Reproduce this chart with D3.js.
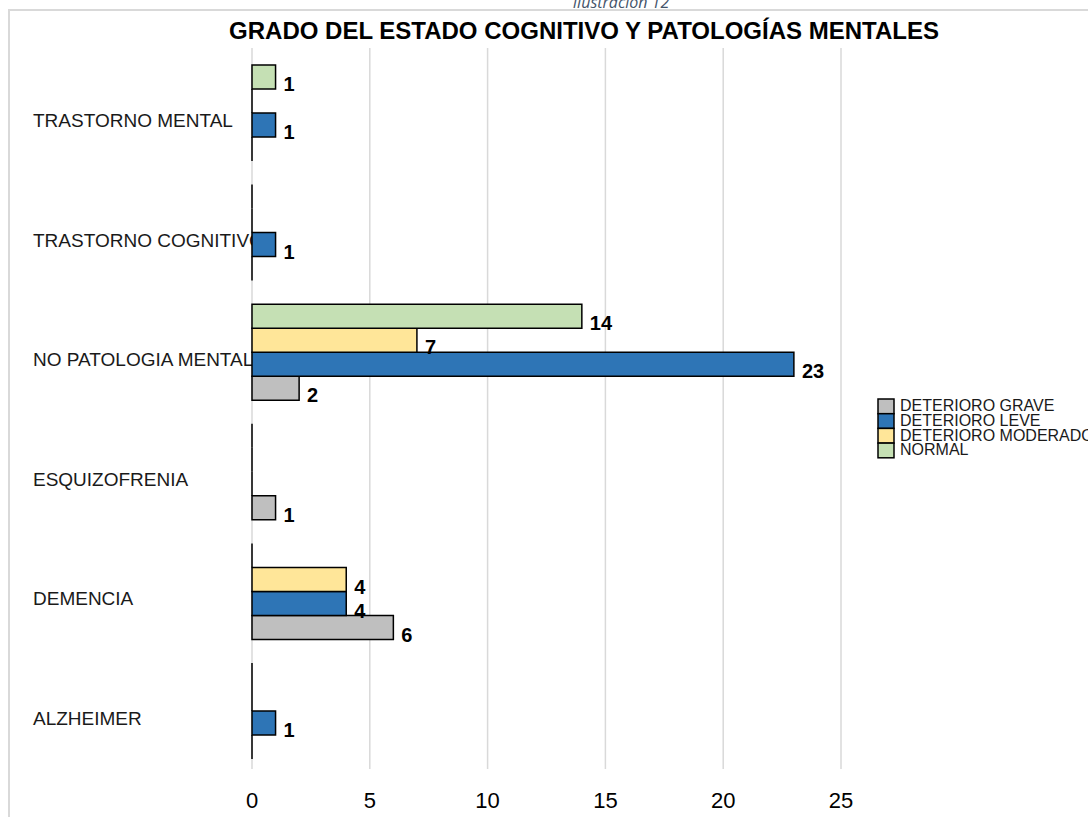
<!DOCTYPE html>
<html>
<head>
<meta charset="utf-8">
<script src="https://cdn.jsdelivr.net/npm/d3@7"></script>
<style>
  body { margin: 0; background: #fff; }
  svg { display: block; font-family: "Liberation Sans", Arial, sans-serif; }
</style>
</head>
<body>
<svg width="1088" height="817"></svg>
<script>
// Data
var categories = ["TRASTORNO MENTAL", "TRASTORNO COGNITIVO", "NO PATOLOGIA MENTAL", "ESQUIZOFRENIA", "DEMENCIA", "ALZHEIMER"];
var seriesNames = ["DETERIORO GRAVE", "DETERIORO LEVE", "DETERIORO MODERADO", "NORMAL"];
var grave = [0, 0, 2, 1, 6, 0];
var leve = [1, 1, 23, 0, 4, 1];
var moderado = [0, 0, 7, 0, 4, 0];
var normal = [1, 0, 14, 0, 0, 0];
var xTicks = [0, 5, 10, 15, 20, 25];

var seriesValues = [grave, leve, moderado, normal];
var colors = ["#bfbfbf", "#2e75b6", "#ffe699", "#c5e0b4"];

var svg = d3.select("svg"),
  width = +svg.attr("width"),
  height = +svg.attr("height");

// caption above the chart (cut off at the top)
svg.append("text")
  .attr("x", 621).attr("y", 8)
  .attr("text-anchor", "middle")
  .style("font-family", "'Open Sans', sans-serif")
  .style("font-style", "italic")
  .style("font-size", "16px")
  .attr("fill", "#44546a")
  .text("Ilustración 12");

// chart border
svg.append("path")
  .attr("d", "M9," + height + "V10H" + width)
  .attr("fill", "none")
  .attr("stroke", "#d9d9d9")
  .attr("stroke-width", 2);

// title
svg.append("text")
  .attr("x", 584).attr("y", 39)
  .attr("text-anchor", "middle")
  .style("font-weight", "bold")
  .style("font-size", "24px")
  .text("GRADO DEL ESTADO COGNITIVO Y PATOLOGÍAS MENTALES");

// scales
var x = d3.scaleLinear().domain([0, 25]).range([252, 841]);
var y = d3.scaleBand().domain(categories).range([53, 771]).paddingInner(0.197).paddingOuter(0.1);
// series from top to bottom inside a category: NORMAL, MODERADO, LEVE, GRAVE
var ySub = d3.scaleBand().domain([3, 2, 1, 0]).range([0, y.bandwidth()]);

// gridlines
svg.append("g")
  .selectAll("line")
  .data(xTicks)
  .enter()
  .append("line")
  .attr("x1", function (d) { return x(d); })
  .attr("x2", function (d) { return x(d); })
  .attr("y1", 48)
  .attr("y2", 769)
  .attr("stroke", "#d9d9d9")
  .attr("stroke-width", 1.5);

// tick labels
svg.append("g")
  .selectAll("text")
  .data(xTicks)
  .enter()
  .append("text")
  .attr("x", function (d) { return x(d); })
  .attr("y", 808)
  .attr("text-anchor", "middle")
  .style("font-size", "22px")
  .text(function (d) { return d; });

// category labels (drawn first so bars cover overflow)
svg.append("g")
  .selectAll("text")
  .data(categories)
  .enter()
  .append("text")
  .attr("x", 33)
  .attr("y", function (d) { return y(d) + y.bandwidth() / 2 + 9; })
  .attr("dominant-baseline", "middle")
  .style("font-size", "19px")
  .attr("fill", "#1a1a1a")
  .text(function (d) { return d; });

// bars (paths, so zero values still show their outline)
seriesValues.forEach(function (vals, si) {
  svg.append("g")
    .selectAll("path")
    .data(vals)
    .enter()
    .append("path")
    .attr("d", function (d, ci) {
      var y0 = y(categories[ci]) + ySub(si);
      return "M" + x(0) + "," + y0 + "H" + x(d) + "V" + (y0 + ySub.bandwidth()) + "H" + x(0) + "Z";
    })
    .attr("fill", colors[si])
    .attr("stroke", "#000")
    .attr("stroke-width", 1.5);
});

// data labels
seriesValues.forEach(function (vals, si) {
  vals.forEach(function (v, ci) {
    if (!v) return;
    svg.append("text")
      .attr("x", x(v) + 8)
      .attr("y", y(categories[ci]) + ySub(si) + ySub.bandwidth() / 2 + 9)
      .attr("dominant-baseline", "middle")
      .style("font-weight", "bold")
      .style("font-size", "20px")
      .text(v);
  });
});

// legend
var legend = svg.append("g").attr("transform", "translate(878,399)");
seriesNames.forEach(function (name, i) {
  legend.append("rect")
    .attr("x", 0).attr("y", i * 14.7)
    .attr("width", 16).attr("height", 14.7)
    .attr("fill", colors[i])
    .attr("stroke", "#000")
    .attr("stroke-width", 1.5);
  legend.append("text")
    .attr("x", 22).attr("y", i * 14.7 + 8)
    .attr("dominant-baseline", "middle")
    .style("font-size", "16px")
    .attr("fill", "#1a1a1a")
    .text(name);
});
</script>
</body>
</html>
